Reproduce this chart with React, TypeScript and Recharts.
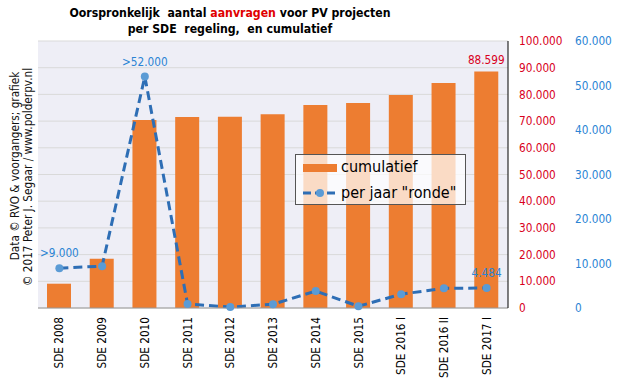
import React from 'react';
import { ComposedChart, Bar, Line, XAxis, YAxis, CartesianGrid } from 'recharts';

// SDE rounds and values
const categories = [
  'SDE 2008', 'SDE 2009', 'SDE 2010', 'SDE 2011', 'SDE 2012', 'SDE 2013',
  'SDE 2014', 'SDE 2015', 'SDE 2016 I', 'SDE 2016 II', 'SDE 2017 I',
];
const cumulatief = [9100, 18400, 70400, 71500, 71600, 72600, 76000, 76800, 79800, 84300, 88599];
const perJaar = [8950, 9400, 52000, 900, 200, 850, 3800, 400, 3100, 4430, 4484];

const lineLabels = ['>9.000', '', '>52.000', '', '', '', '', '', '', '', '4.484'];
const barLabels = ['', '', '', '', '', '', '', '', '', '', '88.599'];

const cumTicks = [0, 10000, 20000, 30000, 40000, 50000, 60000, 70000, 80000, 90000, 100000];
const jaarTicks = [0, 10000, 20000, 30000, 40000, 50000, 60000];

const data = categories.map((sde, i) => ({
  sde,
  cumulatief: cumulatief[i],
  perJaar: perJaar[i],
}));

const FONT = '"DejaVu Sans Condensed", "DejaVu Sans", sans-serif';
const COLORS = {
  bar: '#ed7d31',
  line: '#2e6eb5',
  dot: '#5b9bd5',
  red: '#d8001c',
  blue: '#2b84d4',
  plotBg: '#eeeef6',
  grid: '#d9d9d9',
};

const fmt = (v: number) => String(v).replace(/\B(?=(\d{3})+(?!\d))/g, '.');

const XTick = (props: any) => {
  const { x, y, payload } = props;
  return (
    <text
      x={x}
      y={y + 1}
      transform={`rotate(-90, ${x}, ${y + 1})`}
      textAnchor="end"
      dy="0.35em"
      fill="#000"
      fontSize={11.7}
      fontFamily={FONT}
    >
      {payload.value}
    </text>
  );
};

const LineLabel = (props: any) => {
  const { x, y, index } = props;
  const txt = lineLabels[index];
  if (!txt) return null;
  return (
    <text x={x} y={y - 15} dy="0.35em" textAnchor="middle" fill={COLORS.blue} fontSize={11.7} fontFamily={FONT}>
      {txt}
    </text>
  );
};

const BarLabel = (props: any) => {
  const { x, y, width, index } = props;
  const txt = barLabels[index];
  if (!txt) return null;
  return (
    <text x={x + width / 2} y={y - 12} dy="0.35em" textAnchor="middle" fill={COLORS.red} fontSize={11.7} fontFamily={FONT}>
      {txt}
    </text>
  );
};

export default function App() {
  return (
    <div style={{ position: 'absolute', left: 0, top: 0, width: 622, height: 388, background: '#fff', fontFamily: FONT }}>
      <ComposedChart width={622} height={388} data={data} margin={{ top: 41, right: 8, left: 38, bottom: 0 }}>
        <CartesianGrid yAxisId="cum" fill={COLORS.plotBg} stroke={COLORS.grid} vertical={false} />
        <XAxis
          dataKey="sde"
          height={80}
          interval={0}
          tick={<XTick />}
          tickLine={false}
          axisLine={{ stroke: '#999' }}
        />
        <XAxis xAxisId="top" dataKey="sde" orientation="top" height={0} tick={false} tickLine={false} axisLine={{ stroke: '#000' }} />
        <YAxis yAxisId="frame" orientation="left" width={0} tick={false} tickLine={false} axisLine={{ stroke: '#000' }} />
        <YAxis
          yAxisId="cum"
          orientation="right"
          width={56}
          domain={[0, 100000]}
          ticks={cumTicks}
          interval={0}
          tickFormatter={fmt}
          tickLine={false}
          tickMargin={5}
          axisLine={{ stroke: '#000' }}
          tick={{ fill: COLORS.red, fontSize: 11.7, fontFamily: FONT, textAnchor: 'start' }}
        />
        <YAxis
          yAxisId="jaar"
          orientation="right"
          width={50}
          domain={[0, 60000]}
          ticks={jaarTicks}
          interval={0}
          tickFormatter={fmt}
          tickLine={false}
          tickMargin={5}
          axisLine={false}
          tick={{ fill: COLORS.blue, fontSize: 11.7, fontFamily: FONT, textAnchor: 'start' }}
        />
        <Bar yAxisId="cum" dataKey="cumulatief" fill={COLORS.bar} barSize={24} isAnimationActive={false} label={<BarLabel />} />
        <Line
          yAxisId="jaar"
          dataKey="perJaar"
          type="linear"
          stroke={COLORS.line}
          strokeWidth={3}
          strokeDasharray="9 5"
          dot={{ r: 4, fill: COLORS.dot, stroke: 'none' }}
          isAnimationActive={false}
          label={<LineLabel />}
        />
      </ComposedChart>

      {/* title + source texts */}
      <svg width={622} height={388} style={{ position: 'absolute', left: 0, top: 0, pointerEvents: 'none' }}>
        <text x={230} y={17} textAnchor="middle" fontSize={12.2} fontWeight="bold" fontFamily={FONT} fill="#000" style={{ whiteSpace: 'pre' }}>
          {'Oorspronkelijk  aantal '}
          <tspan fill="#e00000">aanvragen</tspan>
          {' voor PV projecten'}
        </text>
        <text x={230} y={33} textAnchor="middle" fontSize={12.2} fontWeight="bold" fontFamily={FONT} fill="#000" style={{ whiteSpace: 'pre' }}>
          {'per SDE  regeling,  en cumulatief'}
        </text>
        <text x={15} y={166} transform="rotate(-90, 15, 166)" textAnchor="middle" dy="0.35em" fontSize={11.7} fontFamily={FONT} fill="#111">
          Data © RVO &amp; voorgangers; grafiek
        </text>
        <text x={28} y={177} transform="rotate(-90, 28, 177)" textAnchor="middle" dy="0.35em" fontSize={11.7} fontFamily={FONT} fill="#111">
          © 2017 Peter J. Segaar / www.polderpv.nl
        </text>
      </svg>

      {/* legend */}
      <div
        style={{
          position: 'absolute', left: 295, top: 154, width: 169, height: 49,
          background: 'rgba(255,255,255,0.72)', border: '1px solid #555', fontSize: 16, color: '#000',
        }}
      >
        <div style={{ position: 'absolute', left: 7, top: 9, width: 34, height: 8, background: COLORS.bar }} />
        <div style={{ position: 'absolute', left: 45, top: 3, lineHeight: '18px' }}>cumulatief</div>
        <svg style={{ position: 'absolute', left: 6, top: 33 }} width={36} height={10}>
          <line x1={1} y1={5} x2={35} y2={5} stroke={COLORS.line} strokeWidth={3} strokeDasharray="8 4" />
          <circle cx={18} cy={5} r={4} fill={COLORS.dot} />
        </svg>
        <div style={{ position: 'absolute', left: 45, top: 29, lineHeight: '18px', whiteSpace: 'pre' }}>per jaar "ronde"</div>
      </div>
    </div>
  );
}
